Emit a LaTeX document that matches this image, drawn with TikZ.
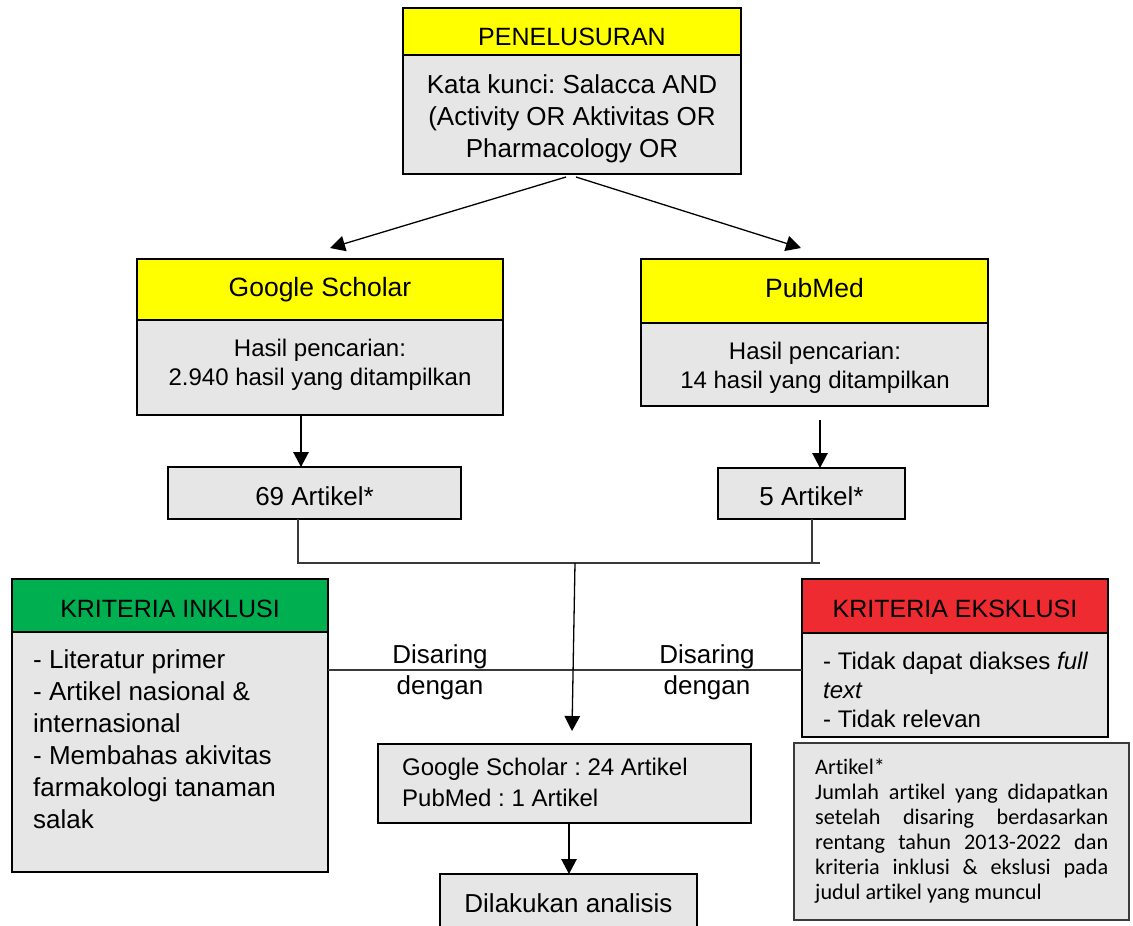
\documentclass[tikz,border=0pt]{standalone}
\usepackage{fontspec}
\setmainfont{Liberation Sans}
\newfontfamily\calibfont[Ligatures={NoCommon}]{Carlito}
\usetikzlibrary{arrows.meta}
\definecolor{boxgray}{HTML}{E6E6E6}
\definecolor{ylw}{HTML}{FFFF00}
\definecolor{grn}{HTML}{00B050}
\definecolor{rd}{HTML}{EE2B30}
\definecolor{linegray}{HTML}{3A3A3A}
\newcommand{\myfirstA}{\rule{0pt}{20pt}}
\newcommand{\myfirstB}{\rule{0pt}{18.5pt}}
\newcommand{\myfirstC}{\rule{0pt}{16.5pt}}
\frenchspacing
\begin{document}
\frenchspacing
\begin{tikzpicture}[x=1pt,y=-1pt,
  boxrect/.style={draw=black,line width=2.6pt,inner sep=0pt,outer sep=0pt,anchor=north west},
  notebox/.style={draw=linegray,line width=1.4pt,inner sep=0pt,outer sep=0pt,anchor=north west,fill=boxgray},
  headtxt/.style={font=\fontsize{25}{30}\selectfont,anchor=base,inner sep=0pt},
  bodytxt/.style={font=\fontsize{26}{32}\selectfont,inner sep=0pt,align=center},
  smalltxt/.style={font=\fontsize{24}{29}\selectfont,inner sep=0pt,align=center},
  conn/.style={draw=linegray,line width=1.3pt},
  arr/.style={draw=black,line width=1.3pt,-{Triangle[width=15.5pt,length=15pt]}}]
\clip (0,0) rectangle (1133,926);
\fill[white] (0,0) rectangle (1133,926);

% ---- PENELUSURAN
\node[boxrect,fill=boxgray,minimum width=338pt,minimum height=119pt] (penb) at (403,55) {};
\node[boxrect,fill=ylw,minimum width=338pt,minimum height=47pt] (penh) at (403,8) {};
\node[headtxt] (pent) at (572,45) {PENELUSURAN};
\node[bodytxt,anchor=north] (penx) at (572,73) {\myfirstA Kata kunci: Salacca AND\\(Activity OR Aktivitas OR\\Pharmacology OR};

% ---- Google Scholar
\node[boxrect,fill=boxgray,minimum width=366pt,minimum height=95pt] (gsb) at (137,320) {};
\node[boxrect,fill=ylw,minimum width=366pt,minimum height=61pt] (gsh) at (137,259) {};
\node[headtxt,font=\fontsize{26.5}{30}\selectfont] (gst) at (320,296) {Google Scholar};
\node[smalltxt,anchor=north] (gsx) at (320,337.5) {\myfirstB Hasil pencarian:\\2.940 hasil yang ditampilkan};

% ---- PubMed
\node[boxrect,fill=boxgray,minimum width=347pt,minimum height=83pt] (pmb) at (641,323) {};
\node[boxrect,fill=ylw,minimum width=347pt,minimum height=64pt] (pmh) at (641,259) {};
\node[headtxt,font=\fontsize{26.5}{30}\selectfont] (pmt) at (814.5,297) {PubMed};
\node[smalltxt,anchor=north] (pmx) at (815,340.5) {\myfirstB Hasil pencarian:\\14 hasil yang ditampilkan};

% ---- Artikel boxes
\node[boxrect,fill=boxgray,minimum width=293pt,minimum height=52pt] (gs69) at (168,467) {};
\node[bodytxt,anchor=base] (gs69t) at (314.5,505) {69 Artikel*};
\node[boxrect,fill=boxgray,minimum width=187pt,minimum height=51pt] (pm5) at (718,468) {};
\node[bodytxt,anchor=base] (pm5t) at (811.5,505) {5 Artikel*};

% ---- Kriteria inklusi
\node[boxrect,fill=boxgray,minimum width=316pt,minimum height=240pt] (inb) at (12,632) {};
\node[boxrect,fill=grn,minimum width=316pt,minimum height=53pt] (inh) at (12,579) {};
\node[headtxt] (int) at (170,617) {KRITERIA INKLUSI};
\node[bodytxt,align=left,anchor=north west] (inx) at (33,648) {\myfirstA - Literatur primer\\- Artikel nasional \&\\internasional\\- Membahas akivitas\\farmakologi tanaman\\salak};

% ---- Kriteria eksklusi
\node[boxrect,fill=boxgray,minimum width=306pt,minimum height=104pt] (exb) at (802,633) {};
\node[boxrect,fill=rd,minimum width=306pt,minimum height=54pt] (exh) at (802,579) {};
\node[headtxt] (ext) at (955,617) {KRITERIA EKSKLUSI};
\node[font=\fontsize{24}{29}\selectfont,inner sep=0pt,align=left,anchor=north west] (exx) at (823,650.5) {\myfirstB - Tidak dapat diakses \textit{full}\\\textit{text}\\- Tidak relevan};

% ---- Footnote
\node[notebox,minimum width=335pt,minimum height=177pt] (note) at (794,743) {};
\node[font=\calibfont\fontsize{22.2}{25}\selectfont,inner sep=0pt,align=left,anchor=north west] (notex) at (815,757.5) {\myfirstC Artikel*\\\makebox[293pt][s]{Jumlah artikel yang didapatkan}\\\makebox[293pt][s]{setelah disaring berdasarkan}\\\makebox[293pt][s]{rentang tahun 2013-2022 dan}\\\makebox[293pt][s]{kriteria inklusi \& ekslusi pada}\\judul artikel yang muncul};

% ---- Result
\node[boxrect,fill=boxgray,minimum width=373pt,minimum height=79pt] (res) at (378,744) {};
\node[smalltxt,font=\fontsize{24}{31}\selectfont,align=left,anchor=north west] (resx) at (402,756.5) {\myfirstB Google Scholar : 24 Artikel\\PubMed : 1 Artikel};
\node[boxrect,fill=boxgray,minimum width=257pt,minimum height=72pt] (dil) at (440,874) {};
\node[bodytxt,anchor=base] (dilt) at (568.5,912) {Dilakukan analisis};

% ---- Disaring dengan
\node[bodytxt,font=\fontsize{26}{31}\selectfont,anchor=north] (dsl) at (440,643) {\myfirstA Disaring\\dengan};
\node[bodytxt,font=\fontsize{26}{31}\selectfont,anchor=north] (dsr) at (707,643) {\myfirstA Disaring\\dengan};

% ---- connectors
\coordinate (jr) at (820,563);
\coordinate (jc) at (575,563);
\coordinate (hy) at (0,670);
\draw[arr] ([xshift=-6pt,yshift=-3pt]penb.south) -- ([xshift=10pt,yshift=11pt]gsh.north);
\draw[arr] ([xshift=4pt,yshift=-3pt]penb.south) -- ([xshift=-13.5pt,yshift=11pt]pmh.north);
\draw[arr] ([xshift=-19pt]gsb.south) -- ([xshift=-13.5pt]gs69.north);
\draw[arr] ([xshift=5.5pt,yshift=-14pt]pmb.south) -- ([xshift=8.5pt]pm5.north);
\draw[conn] ([xshift=-16.5pt]gs69.south) |- (jr);
\draw[conn] ([xshift=0.5pt]pm5.south) -- ([xshift=0.5pt]pm5.south |- jr);
\draw[conn] (inb.east |- hy) -- (exb.west |- hy);
\draw[arr] (jc) -- ([xshift=7.5pt,yshift=13pt]res.north);
\draw[arr] ([xshift=4.5pt]res.south) -- ([xshift=0.5pt]dil.north);
\end{tikzpicture}
\end{document}
